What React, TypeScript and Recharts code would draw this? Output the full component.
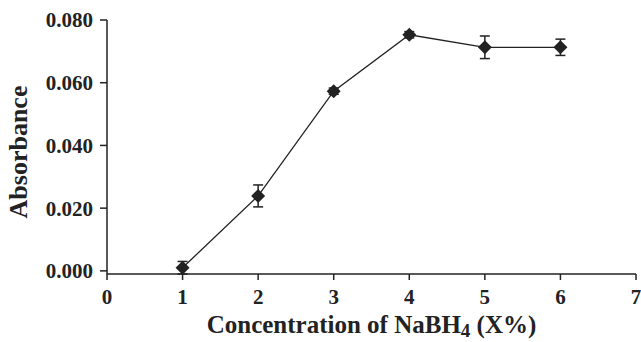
import { LineChart, Line, XAxis, YAxis, ErrorBar } from "recharts"

const concentrations = [1, 2, 3, 4, 5, 6]
const absorbance = [0.001, 0.0239, 0.0573, 0.0753, 0.0713, 0.0713]
const errors = [0.002, 0.0035, 0.001, 0.001, 0.0036, 0.0026]
const xTicks = [0, 1, 2, 3, 4, 5, 6, 7]
const yTicks = [0, 0.02, 0.04, 0.06, 0.08]

const data = concentrations.map((x, i) => ({ x, y: absorbance[i], err: errors[i] }))

const font = '"Liberation Serif", "Times New Roman", serif'
const ink = "#222222"

// filled diamond marker
function Diamond(props: any) {
  const { cx, cy, index } = props
  if (cx == null || cy == null) return null
  const r = 7
  return (
    <path
      key={`d-${index}`}
      d={`M${cx},${cy - r}L${cx + r},${cy}L${cx},${cy + r}L${cx - r},${cy}Z`}
      fill={ink}
    />
  )
}

function XLabel(props: any) {
  const vb = props.viewBox || {}
  const cx = vb.x + vb.width / 2
  return (
    <text x={cx} y={333} textAnchor="middle" fontFamily={font} fontWeight="bold" fontSize={25} fill={ink}>
      Concentration of NaBH
      <tspan fontSize={19} dy={4}>4</tspan>
      <tspan dy={-4}> (X%)</tspan>
    </text>
  )
}

function YLabel(props: any) {
  const vb = props.viewBox || {}
  const cy = vb.y + vb.height / 2 + 5
  const x = 27
  return (
    <text
      x={x}
      y={cy}
      transform={`rotate(-90, ${x}, ${cy})`}
      textAnchor="middle"
      fontFamily={font}
      fontWeight="bold"
      fontSize={26}
      fill={ink}
    >
      Absorbance
    </text>
  )
}

export default function App() {
  return (
    <div style={{ position: "fixed", left: 0, top: 0, width: 641, height: 342, background: "#fff" }}>
      <LineChart width={641} height={342} data={data} margin={{ top: 20, right: 5, left: 0, bottom: 0 }}>
        <XAxis
          dataKey="x"
          type="number"
          domain={[0, 7]}
          ticks={xTicks}
          interval={0}
          height={68}
          tickSize={6}
          tickMargin={9}
          stroke={ink}
          strokeWidth={1.5}
          tick={{ fontFamily: font, fontWeight: "bold", fontSize: 21, fill: ink }}
          label={<XLabel />}
        />
        <YAxis
          type="number"
          domain={[0, 0.08]}
          ticks={yTicks}
          interval={0}
          width={107}
          tickSize={7}
          tickMargin={7}
          stroke={ink}
          strokeWidth={1.5}
          tickFormatter={(v: number) => v.toFixed(3)}
          tick={{ fontFamily: font, fontWeight: "bold", fontSize: 21, fill: ink }}
          label={<YLabel />}
        />
        <Line
          dataKey="y"
          stroke={ink}
          strokeWidth={1.3}
          dot={<Diamond />}
          activeDot={false}
          isAnimationActive={false}
        >
          <ErrorBar dataKey="err" direction="y" width={5} stroke={ink} strokeWidth={1.5} isAnimationActive={false} />
        </Line>
      </LineChart>
    </div>
  )
}
